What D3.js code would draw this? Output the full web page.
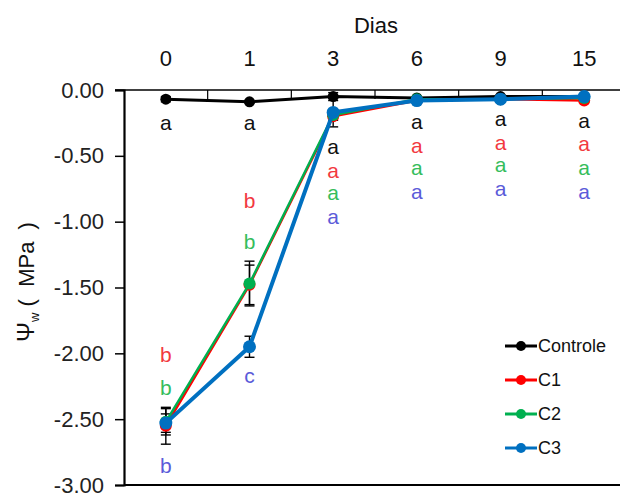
<!DOCTYPE html>
<html>
<head>
<meta charset="utf-8">
<script src="https://cdn.jsdelivr.net/npm/d3@7"></script>
<style>
  body { margin: 0; background: #fff; }
  svg text { font-family: Arial, "Liberation Sans", sans-serif; }
</style>
</head>
<body>
<svg id="chart" width="620" height="495"></svg>
<script>
// days on the top axis
const days = ['0', '1', '3', '6', '9', '15']
const yTicks = [0, -0.5, -1, -1.5, -2, -2.5, -3]

// water potential (MPa)
const controle = [-0.07, -0.09, -0.05, -0.06, -0.05, -0.05]
const c1 = [-2.55, -1.48, -0.20, -0.08, -0.07, -0.08]
const c2 = [-2.52, -1.47, -0.19, -0.07, -0.07, -0.06]
const c3 = [-2.53, -1.95, -0.17, -0.08, -0.07, -0.05]

// error bar half widths
const errControle = [0.02, 0.01, 0.03, 0.01, 0.01, 0.01]
const errC1 = [0.14, 0.15, 0.03, 0.01, 0.01, 0.01]
const errC2 = [0.10, 0.17, 0.02, 0.01, 0.01, 0.01]
const errC3 = [0.07, 0.08, 0.11, 0.01, 0.01, 0.01]

// significance letters and where they sit (in MPa)
const lettersControle = ['a', 'a', 'a', 'a', 'a', 'a']
const lettersC1 = ['b', 'b', 'a', 'a', 'a', 'a']
const lettersC2 = ['b', 'b', 'a', 'a', 'a', 'a']
const lettersC3 = ['b', 'c', 'a', 'a', 'a', 'a']
const letterYControle = [-0.25, -0.25, -0.43, -0.24, -0.22, -0.23]
const letterYC1 = [-2.01, -0.84, -0.61, -0.42, -0.40, -0.41]
const letterYC2 = [-2.26, -1.15, -0.78, -0.59, -0.57, -0.59]
const letterYC3 = [-2.85, -2.17, -0.96, -0.77, -0.75, -0.77]

const series = [
  {name: 'Controle', values: controle, err: errControle, letters: lettersControle, letterY: letterYControle,
    color: '#000000', letterColor: '#111111', width: 3, r: 5.5},
  {name: 'C1', values: c1, err: errC1, letters: lettersC1, letterY: letterYC1,
    color: '#ff0000', letterColor: '#f2393f', width: 2.5, r: 6},
  {name: 'C2', values: c2, err: errC2, letters: lettersC2, letterY: letterYC2,
    color: '#00b050', letterColor: '#35bd5c', width: 2.5, r: 6},
  {name: 'C3', values: c3, err: errC3, letters: lettersC3, letterY: letterYC3,
    color: '#0070c0', letterColor: '#5b5bd9', width: 4, r: 6.5},
]

const svg = d3.select('#chart')
const plotLeft = 124, plotRight = 626, plotTop = 90, plotBottom = 485

const x = d3.scaleBand().domain(days).range([plotLeft, plotRight]).padding(0)
const cx = d => x(d) + x.bandwidth() / 2
const y = d3.scaleLinear().domain([-3, 0]).range([plotBottom, plotTop])

// bottom frame line
svg.append('line')
  .attr('x1', plotLeft).attr('x2', 620)
  .attr('y1', y(-3)).attr('y2', y(-3))
  .attr('stroke', '#000').attr('stroke-width', 2.2)

// y axis, plain hyphen for the minus sign like the original
const yAxis = d3.axisLeft(y)
  .tickValues(yTicks)
  .tickFormat(d => d.toFixed(2))
  .tickSize(9)
  .tickPadding(11)
const gy = svg.append('g').attr('transform', `translate(${plotLeft},0)`).call(yAxis)
gy.select('.domain').attr('stroke-width', 2.2)
gy.selectAll('.tick line').attr('stroke-width', 1.5)
gy.selectAll('.tick text').attr('font-size', 22).attr('fill', '#222')

// top axis at 0 with ticks between the days
const gx = svg.append('g')
gx.append('line')
  .attr('x1', plotLeft - 9).attr('x2', 620)
  .attr('y1', y(0)).attr('y2', y(0))
  .attr('stroke', '#000').attr('stroke-width', 1.6)
gx.selectAll('line.tick').data(days.slice(1)).join('line')
  .attr('class', 'tick')
  .attr('x1', d => x(d)).attr('x2', d => x(d))
  .attr('y1', y(0)).attr('y2', y(0) + 9)
  .attr('stroke', '#000').attr('stroke-width', 1.2)
gx.selectAll('text').data(days).join('text')
  .attr('x', d => cx(d)).attr('y', 66)
  .attr('text-anchor', 'middle')
  .attr('font-size', 22).attr('fill', '#111')
  .text(d => d)

svg.append('text')
  .attr('x', 376).attr('y', 33)
  .attr('text-anchor', 'middle')
  .attr('font-size', 22).attr('fill', '#111')
  .text('Dias')

// y axis title
const yt = svg.append('text')
  .attr('transform', 'translate(34,282) rotate(-90)')
  .attr('text-anchor', 'middle')
  .attr('font-size', 22).attr('fill', '#111')
  .style('white-space', 'pre')
yt.append('tspan').attr('font-size', 24).text('Ψ')
yt.append('tspan').attr('font-size', 13).attr('dy', 5).text('w')
yt.append('tspan').attr('dy', -5).text(' (  MPa  )')

const line = d3.line().x((d, i) => cx(days[i])).y(d => y(d))

// error bars
series.forEach(s => {
  const g = svg.append('g').attr('class', 'err')
  s.values.forEach((v, i) => {
    const px = cx(days[i])
    const lo = y(v - s.err[i]), hi = y(v + s.err[i])
    g.append('line').attr('x1', px).attr('x2', px).attr('y1', lo).attr('y2', hi)
      .attr('stroke', '#000').attr('stroke-width', 1.4)
    ;[lo, hi].forEach(yy => g.append('line')
      .attr('x1', px - 5).attr('x2', px + 5).attr('y1', yy).attr('y2', yy)
      .attr('stroke', '#000').attr('stroke-width', 1.4))
  })
})

// lines and markers
series.forEach(s => {
  svg.append('path').datum(s.values)
    .attr('d', line)
    .attr('fill', 'none')
    .attr('stroke', s.color)
    .attr('stroke-width', s.width)
  svg.append('g').selectAll('circle').data(s.values).join('circle')
    .attr('cx', (d, i) => cx(days[i]))
    .attr('cy', d => y(d))
    .attr('r', s.r)
    .attr('fill', s.color)
})

// letters
series.forEach(s => {
  svg.append('g').selectAll('text').data(s.letters).join('text')
    .attr('x', (d, i) => cx(days[i]))
    .attr('y', (d, i) => y(s.letterY[i]))
    .attr('dy', '0.35em')
    .attr('text-anchor', 'middle')
    .attr('font-size', 21)
    .attr('fill', s.letterColor)
    .text(d => d)
})

// legend
const legend = svg.append('g').attr('transform', 'translate(505,346)')
series.forEach((s, i) => {
  const g = legend.append('g').attr('transform', `translate(0,${i * 34})`)
  g.append('line').attr('x1', 0).attr('x2', 32).attr('y1', 0).attr('y2', 0)
    .attr('stroke', s.color).attr('stroke-width', 3)
  g.append('circle').attr('cx', 16).attr('cy', 0).attr('r', 5).attr('fill', s.color)
  g.append('text').attr('x', 33).attr('y', 0).attr('dy', '0.35em')
    .attr('font-size', 18).attr('fill', '#111')
    .text(s.name)
})
</script>
</body>
</html>
